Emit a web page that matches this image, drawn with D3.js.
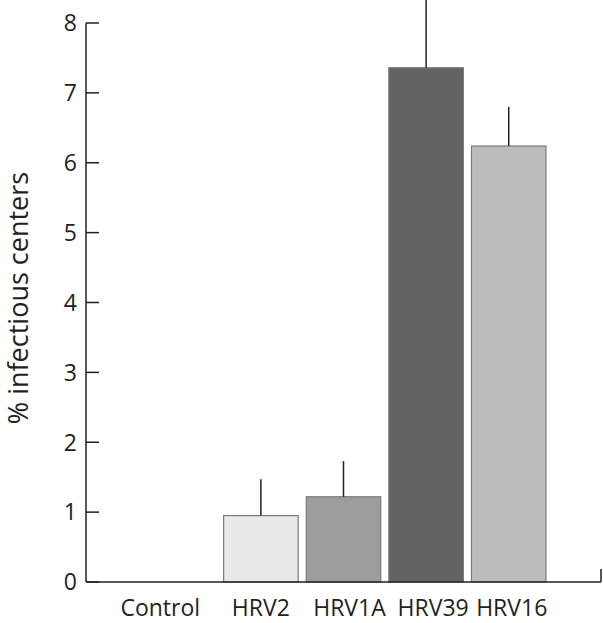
<!DOCTYPE html>
<html><head><meta charset="utf-8">
<script src="https://cdn.jsdelivr.net/npm/d3@7"></script>
<style>body{margin:0;background:#fff}svg{display:block}text{font-family:"Open Sans",sans-serif;fill:#231f20}</style>
</head><body>
<script>
const categories = ["Control","HRV2","HRV1A","HRV39","HRV16"];
const values = [0, 0.95, 1.22, 7.36, 6.24];
const errorTops = [0, 1.47, 1.73, 8.45, 6.80];
const yTicks = [0,1,2,3,4,5,6,7,8];
const fills = ["none","#e8e9e9","#9d9d9d","#646263","#bbbcbc"];
const labelShift = [-18, 0, 6, 7, 3];

const W = 603, H = 623;
const svg = d3.select("body").append("svg").attr("width", W).attr("height", H);
const x0 = 86, x1 = 601, yBase = 582, yTop = 23;
const x = d3.scaleBand().domain(categories).range([x0, x1]).paddingInner(0.098).paddingOuter(0.666);
const y = d3.scaleLinear().domain([0, 8]).range([yBase, yTop]);

const ink = "#231f20";
svg.append("line").attr("x1", x0).attr("x2", x0).attr("y1", y(8)).attr("y2", yBase).attr("stroke", ink).attr("stroke-width", 1.5);
svg.selectAll(".yt").data(yTicks).join("line").attr("x1", x0).attr("x2", x0 + 13)
  .attr("y1", d => y(d)).attr("y2", d => y(d)).attr("stroke", ink).attr("stroke-width", 1.5);
svg.selectAll(".yl").data(yTicks).join("text").attr("x", x0 - 9).attr("y", d => y(d)).attr("dy", "0.36em")
  .attr("text-anchor", "end").attr("font-size", 23).text(d => d);

const bi = categories.map((c, i) => i).filter(i => values[i] > 0);
svg.selectAll(".bar").data(bi).join("rect")
  .attr("x", i => x(categories[i])).attr("width", x.bandwidth())
  .attr("y", i => y(values[i])).attr("height", i => yBase - y(values[i]))
  .attr("fill", i => fills[i]).attr("stroke", "#7a7a7a").attr("stroke-width", 1.2);
svg.selectAll(".err").data(bi).join("line")
  .attr("x1", i => x(categories[i]) + x.bandwidth() / 2).attr("x2", i => x(categories[i]) + x.bandwidth() / 2)
  .attr("y1", i => y(values[i])).attr("y2", i => y(errorTops[i]))
  .attr("stroke", ink).attr("stroke-width", 1.5);

svg.append("line").attr("x1", x0).attr("x2", x1).attr("y1", yBase).attr("y2", yBase).attr("stroke", ink).attr("stroke-width", 1.5);
svg.append("line").attr("x1", x1).attr("x2", x1).attr("y1", yBase).attr("y2", yBase - 13).attr("stroke", ink).attr("stroke-width", 1.5);

svg.selectAll(".xl").data(categories).join("text")
  .attr("x", (d, i) => x(d) + x.bandwidth() / 2 + labelShift[i]).attr("y", 616)
  .attr("text-anchor", "middle").attr("font-size", 23).text(d => d);

svg.append("text").attr("transform", "translate(28,298) rotate(-90)").attr("text-anchor", "middle")
  .attr("font-size", 27).text("% infectious centers");
</script>
</body></html>
